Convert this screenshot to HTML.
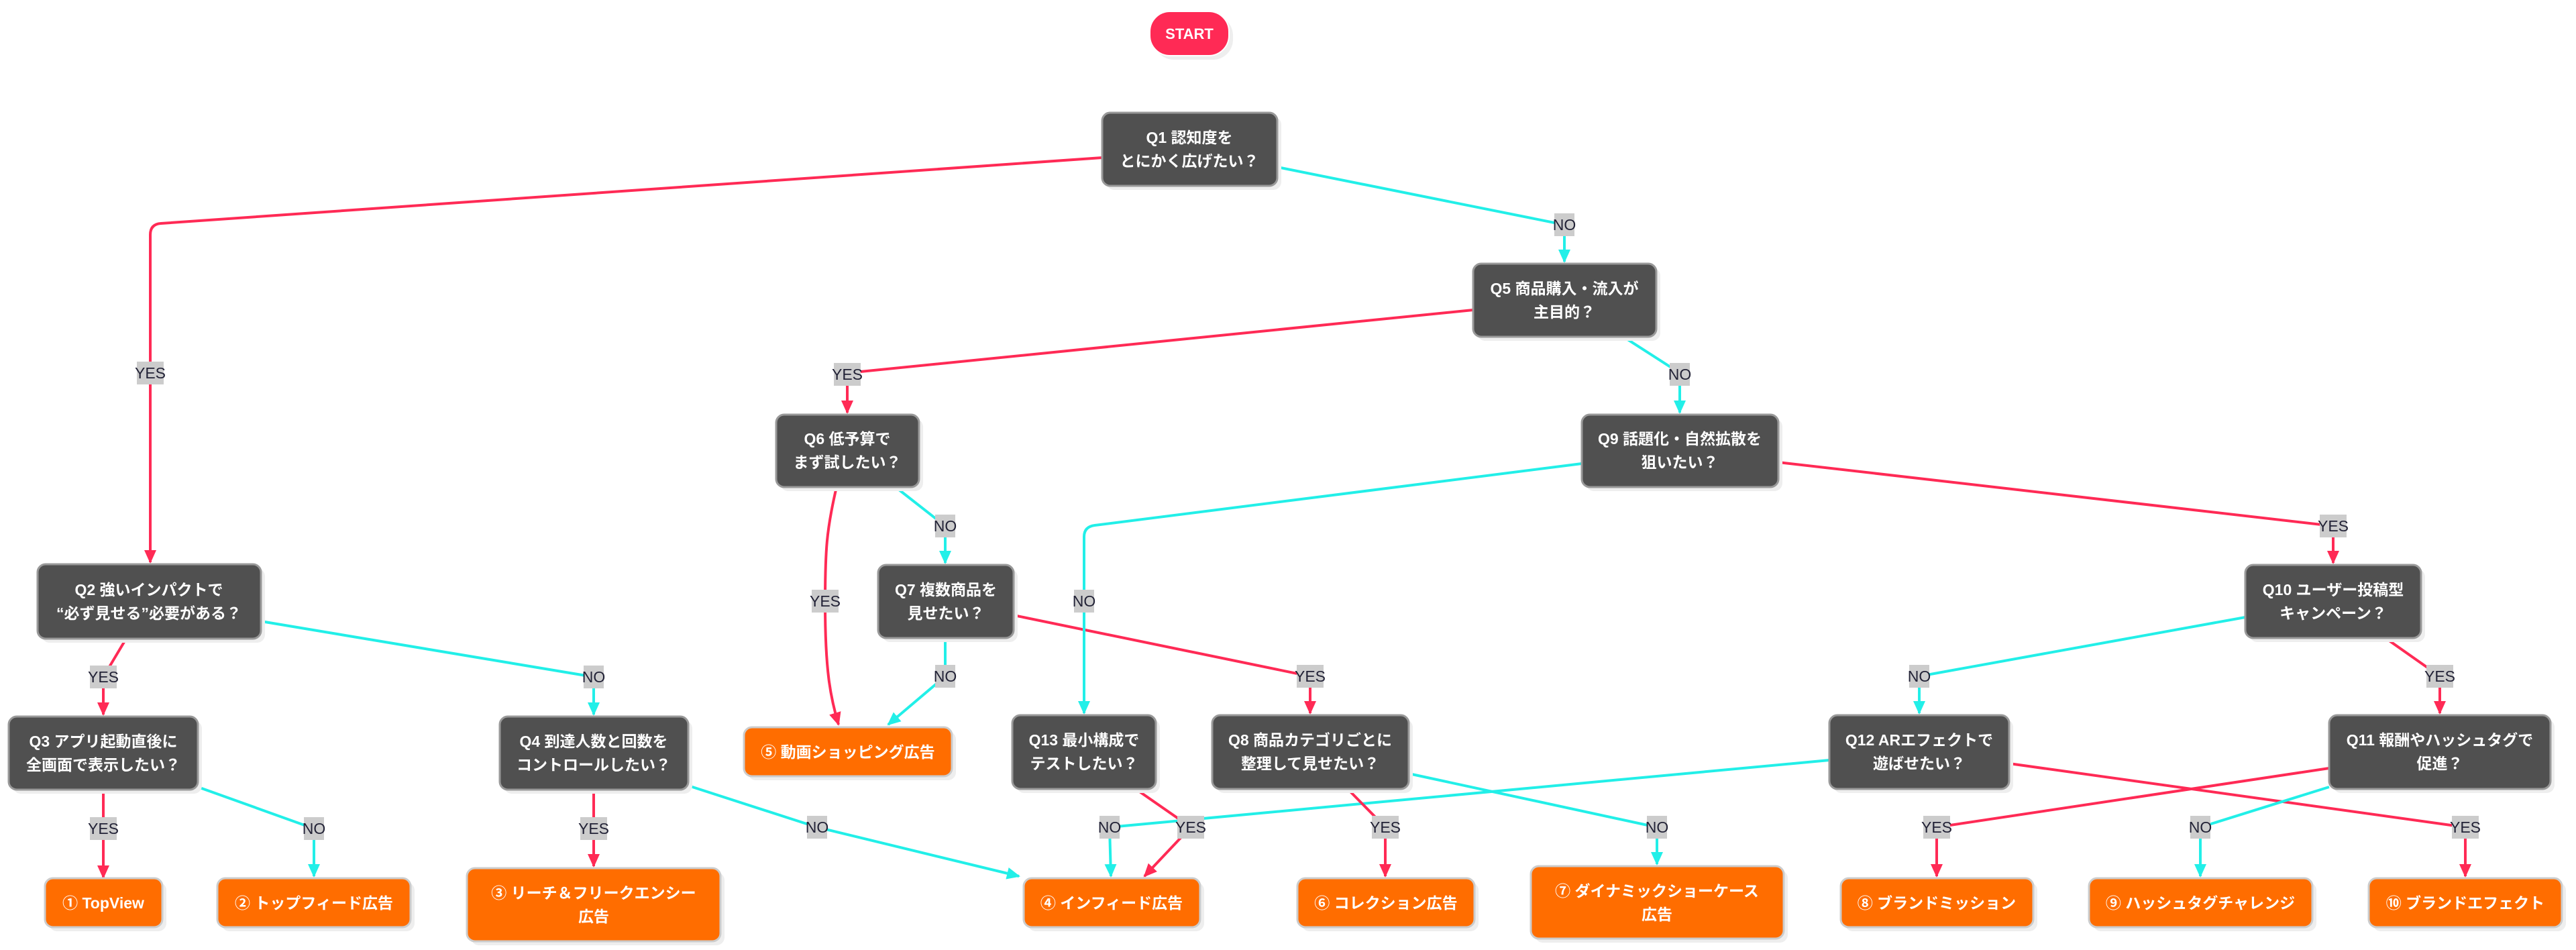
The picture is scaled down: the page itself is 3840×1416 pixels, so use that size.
<!DOCTYPE html>
<html><head><meta charset="utf-8"><style>
html,body{margin:0;padding:0;background:#fff;}
svg{display:block;}
.t{font-family:"Liberation Sans","Noto Sans CJK JP",sans-serif;font-weight:bold;fill:#fff;font-size:23px;text-anchor:middle;}
.l{font-family:"Liberation Sans","Noto Sans CJK JP",sans-serif;fill:#222236;font-size:23px;text-anchor:middle;}
.r{stroke:#ff2a55;stroke-width:4;fill:none;}
.c{stroke:#22efe8;stroke-width:4;fill:none;}
</style></head><body>
<svg width="3840" height="1416" viewBox="0 0 3840 1416" xmlns="http://www.w3.org/2000/svg">
<defs>
<marker id="ar" markerUnits="userSpaceOnUse" markerWidth="20" markerHeight="24" refX="18" refY="9" orient="auto"><path d="M0,0 L20,9 L0,18 z" fill="#ff2a55"/></marker>
<marker id="ac" markerUnits="userSpaceOnUse" markerWidth="20" markerHeight="24" refX="18" refY="9" orient="auto"><path d="M0,0 L20,9 L0,18 z" fill="#22efe8"/></marker>
</defs>

<!-- edges -->
<path class="r" d="M1643,235 L240,333 Q224,334 224,350 L224,838" marker-end="url(#ar)"/>
<path class="c" d="M1904,249 L2332,335 L2332,390" marker-end="url(#ac)"/>
<path class="r" d="M2196,462 L1263,556 L1263,615" marker-end="url(#ar)"/>
<path class="c" d="M2420,502 L2504,556 L2504,615" marker-end="url(#ac)"/>
<path class="r" d="M1247,726 C1232,790 1230,820 1230,900 C1230,1000 1238,1040 1250,1080" marker-end="url(#ar)"/>
<path class="c" d="M1335,726 L1409,784 L1409,839" marker-end="url(#ac)"/>
<path class="c" d="M1409,951 L1409,1008 L1324,1080" marker-end="url(#ac)"/>
<path class="r" d="M1511,917 L1953,1008 L1953,1063" marker-end="url(#ar)"/>
<path class="c" d="M2358,691 L1632,783 Q1616,785 1616,800 L1616,1063" marker-end="url(#ac)"/>
<path class="r" d="M2651,689 L3478,784 L3478,839" marker-end="url(#ar)"/>
<path class="r" d="M188,952 L154,1009 L154,1065" marker-end="url(#ar)"/>
<path class="c" d="M389,926 L885,1009 L885,1065" marker-end="url(#ac)"/>
<path class="r" d="M154,1177 L154,1308" marker-end="url(#ar)"/>
<path class="c" d="M295,1173 L468,1235 L468,1306" marker-end="url(#ac)"/>
<path class="r" d="M885,1177 L885,1291" marker-end="url(#ar)"/>
<path class="c" d="M1026,1171 L1218,1233 L1519,1306" marker-end="url(#ac)"/>
<path class="c" d="M2727,1133 L1654,1233 L1656,1306" marker-end="url(#ac)"/>
<path class="r" d="M1693,1176 L1775,1233 L1706,1306" marker-end="url(#ar)"/>
<path class="r" d="M2009,1176 L2065,1233 L2065,1306" marker-end="url(#ar)"/>
<path class="c" d="M2100,1153 L2470,1233 L2470,1288" marker-end="url(#ac)"/>
<path class="c" d="M3347,920 L2861,1008 L2861,1063" marker-end="url(#ac)"/>
<path class="r" d="M3556,951 L3637,1008 L3637,1063" marker-end="url(#ar)"/>
<path class="r" d="M2995,1138 L3675,1233 L3675,1306" marker-end="url(#ar)"/>
<path class="r" d="M3472,1145 L2887,1233 L2887,1306" marker-end="url(#ar)"/>
<path class="c" d="M3472,1173 L3280,1233 L3280,1306" marker-end="url(#ac)"/>

<!-- edge labels -->
<g>
<rect x="204" y="539" width="40" height="34" fill="#ccc"/><text class="l" x="224" y="564">YES</text>
<rect x="2317" y="318" width="30" height="34" fill="#ccc"/><text class="l" x="2332" y="343">NO</text>
<rect x="1243" y="541" width="40" height="34" fill="#ccc"/><text class="l" x="1263" y="566">YES</text>
<rect x="2489" y="541" width="30" height="34" fill="#ccc"/><text class="l" x="2504" y="566">NO</text>
<rect x="1210" y="879" width="40" height="34" fill="#ccc"/><text class="l" x="1230" y="904">YES</text>
<rect x="1394" y="767" width="30" height="34" fill="#ccc"/><text class="l" x="1409" y="792">NO</text>
<rect x="1394" y="991" width="30" height="34" fill="#ccc"/><text class="l" x="1409" y="1016">NO</text>
<rect x="1933" y="991" width="40" height="34" fill="#ccc"/><text class="l" x="1953" y="1016">YES</text>
<rect x="1601" y="879" width="30" height="34" fill="#ccc"/><text class="l" x="1616" y="904">NO</text>
<rect x="3458" y="767" width="40" height="34" fill="#ccc"/><text class="l" x="3478" y="792">YES</text>
<rect x="134" y="992" width="40" height="34" fill="#ccc"/><text class="l" x="154" y="1017">YES</text>
<rect x="870" y="992" width="30" height="34" fill="#ccc"/><text class="l" x="885" y="1017">NO</text>
<rect x="134" y="1218" width="40" height="34" fill="#ccc"/><text class="l" x="154" y="1243">YES</text>
<rect x="453" y="1218" width="30" height="34" fill="#ccc"/><text class="l" x="468" y="1243">NO</text>
<rect x="865" y="1218" width="40" height="34" fill="#ccc"/><text class="l" x="885" y="1243">YES</text>
<rect x="1203" y="1216" width="30" height="34" fill="#ccc"/><text class="l" x="1218" y="1241">NO</text>
<rect x="1639" y="1216" width="30" height="34" fill="#ccc"/><text class="l" x="1654" y="1241">NO</text>
<rect x="1755" y="1216" width="40" height="34" fill="#ccc"/><text class="l" x="1775" y="1241">YES</text>
<rect x="2045" y="1216" width="40" height="34" fill="#ccc"/><text class="l" x="2065" y="1241">YES</text>
<rect x="2455" y="1216" width="30" height="34" fill="#ccc"/><text class="l" x="2470" y="1241">NO</text>
<rect x="2846" y="991" width="30" height="34" fill="#ccc"/><text class="l" x="2861" y="1016">NO</text>
<rect x="3617" y="991" width="40" height="34" fill="#ccc"/><text class="l" x="3637" y="1016">YES</text>
<rect x="3655" y="1216" width="40" height="34" fill="#ccc"/><text class="l" x="3675" y="1241">YES</text>
<rect x="2867" y="1216" width="40" height="34" fill="#ccc"/><text class="l" x="2887" y="1241">YES</text>
<rect x="3265" y="1216" width="30" height="34" fill="#ccc"/><text class="l" x="3280" y="1241">NO</text>
</g>

<!-- START -->
<rect x="1720" y="23" width="118" height="66" rx="30" fill="#eee"/>
<rect x="1714" y="17" width="118" height="66" rx="30" fill="#ff2a55" stroke="#fff" stroke-width="2"/>
<text class="t" x="1773" y="58" style="font-size:22px">START</text>

<!-- question nodes -->
<g id="q">
<g><rect x="1649" y="174" width="261" height="109" rx="12" fill="#eee"/><rect x="1643" y="168" width="261" height="109" rx="12" fill="#505050" stroke="#999" stroke-width="3"/><text class="t" x="1773" y="213">Q1 認知度を</text><text class="t" x="1773" y="248">とにかく広げたい？</text></g>
<g><rect x="2202" y="399" width="273" height="109" rx="12" fill="#eee"/><rect x="2196" y="393" width="273" height="109" rx="12" fill="#505050" stroke="#999" stroke-width="3"/><text class="t" x="2332" y="438">Q5 商品購入・流入が</text><text class="t" x="2332" y="473">主目的？</text></g>
<g><rect x="1163" y="624" width="213" height="108" rx="12" fill="#eee"/><rect x="1157" y="618" width="213" height="108" rx="12" fill="#505050" stroke="#999" stroke-width="3"/><text class="t" x="1263" y="662">Q6 低予算で</text><text class="t" x="1263" y="697">まず試したい？</text></g>
<g><rect x="2364" y="624" width="293" height="108" rx="12" fill="#eee"/><rect x="2358" y="618" width="293" height="108" rx="12" fill="#505050" stroke="#999" stroke-width="3"/><text class="t" x="2504" y="662">Q9 話題化・自然拡散を</text><text class="t" x="2504" y="697">狙いたい？</text></g>
<g><rect x="62" y="847" width="333" height="111" rx="12" fill="#eee"/><rect x="56" y="841" width="333" height="111" rx="12" fill="#505050" stroke="#999" stroke-width="3"/><text class="t" x="222" y="887">Q2 強いインパクトで</text><text class="t" x="222" y="922">“必ず見せる”必要がある？</text></g>
<g><rect x="1315" y="848" width="202" height="109" rx="12" fill="#eee"/><rect x="1309" y="842" width="202" height="109" rx="12" fill="#505050" stroke="#999" stroke-width="3"/><text class="t" x="1410" y="887">Q7 複数商品を</text><text class="t" x="1410" y="922">見せたい？</text></g>
<g><rect x="3353" y="848" width="262" height="109" rx="12" fill="#eee"/><rect x="3347" y="842" width="262" height="109" rx="12" fill="#505050" stroke="#999" stroke-width="3"/><text class="t" x="3478" y="887">Q10 ユーザー投稿型</text><text class="t" x="3478" y="922">キャンペーン？</text></g>
<g><rect x="19" y="1074" width="282" height="109" rx="12" fill="#eee"/><rect x="13" y="1068" width="282" height="109" rx="12" fill="#505050" stroke="#999" stroke-width="3"/><text class="t" x="154" y="1113">Q3 アプリ起動直後に</text><text class="t" x="154" y="1148">全画面で表示したい？</text></g>
<g><rect x="751" y="1074" width="281" height="109" rx="12" fill="#eee"/><rect x="745" y="1068" width="281" height="109" rx="12" fill="#505050" stroke="#999" stroke-width="3"/><text class="t" x="885" y="1113">Q4 到達人数と回数を</text><text class="t" x="885" y="1148">コントロールしたい？</text></g>
<g><rect x="1515" y="1072" width="214" height="110" rx="12" fill="#eee"/><rect x="1509" y="1066" width="214" height="110" rx="12" fill="#505050" stroke="#999" stroke-width="3"/><text class="t" x="1616" y="1111">Q13 最小構成で</text><text class="t" x="1616" y="1146">テストしたい？</text></g>
<g><rect x="1813" y="1072" width="293" height="110" rx="12" fill="#eee"/><rect x="1807" y="1066" width="293" height="110" rx="12" fill="#505050" stroke="#999" stroke-width="3"/><text class="t" x="1953" y="1111">Q8 商品カテゴリごとに</text><text class="t" x="1953" y="1146">整理して見せたい？</text></g>
<g><rect x="2733" y="1072" width="268" height="110" rx="12" fill="#eee"/><rect x="2727" y="1066" width="268" height="110" rx="12" fill="#505050" stroke="#999" stroke-width="3"/><text class="t" x="2861" y="1111">Q12 ARエフェクトで</text><text class="t" x="2861" y="1146">遊ばせたい？</text></g>
<g><rect x="3478" y="1072" width="330" height="110" rx="12" fill="#eee"/><rect x="3472" y="1066" width="330" height="110" rx="12" fill="#505050" stroke="#999" stroke-width="3"/><text class="t" x="3637" y="1111">Q11 報酬やハッシュタグで</text><text class="t" x="3637" y="1146">促進？</text></g>
</g>

<!-- result nodes -->
<g>
<g><rect x="1115" y="1090" width="310" height="73" rx="12" fill="#eee"/><rect x="1109" y="1084" width="310" height="73" rx="12" fill="#ff6d00" stroke="#ccc" stroke-width="3"/><text class="t" x="1264" y="1129">⑤ 動画ショッピング広告</text></g>
<g><rect x="73" y="1315" width="175" height="73" rx="12" fill="#eee"/><rect x="67" y="1309" width="175" height="73" rx="12" fill="#ff6d00" stroke="#ccc" stroke-width="3"/><text class="t" x="154" y="1354">① TopView</text></g>
<g><rect x="330" y="1315" width="288" height="73" rx="12" fill="#eee"/><rect x="324" y="1309" width="288" height="73" rx="12" fill="#ff6d00" stroke="#ccc" stroke-width="3"/><text class="t" x="468" y="1354">② トップフィード広告</text></g>
<g><rect x="702" y="1300" width="378" height="109" rx="12" fill="#eee"/><rect x="696" y="1294" width="378" height="109" rx="12" fill="#ff6d00" stroke="#ccc" stroke-width="3"/><text class="t" x="885" y="1339">③ リーチ＆フリークエンシー</text><text class="t" x="885" y="1374">広告</text></g>
<g><rect x="1532" y="1315" width="263" height="73" rx="12" fill="#eee"/><rect x="1526" y="1309" width="263" height="73" rx="12" fill="#ff6d00" stroke="#ccc" stroke-width="3"/><text class="t" x="1657" y="1354">④ インフィード広告</text></g>
<g><rect x="1940" y="1315" width="264" height="73" rx="12" fill="#eee"/><rect x="1934" y="1309" width="264" height="73" rx="12" fill="#ff6d00" stroke="#ccc" stroke-width="3"/><text class="t" x="2066" y="1354">⑥ コレクション広告</text></g>
<g><rect x="2288" y="1297" width="377" height="108" rx="12" fill="#eee"/><rect x="2282" y="1291" width="377" height="108" rx="12" fill="#ff6d00" stroke="#ccc" stroke-width="3"/><text class="t" x="2470" y="1336">⑦ ダイナミックショーケース</text><text class="t" x="2470" y="1371">広告</text></g>
<g><rect x="2750" y="1315" width="287" height="73" rx="12" fill="#eee"/><rect x="2744" y="1309" width="287" height="73" rx="12" fill="#ff6d00" stroke="#ccc" stroke-width="3"/><text class="t" x="2887" y="1354">⑧ ブランドミッション</text></g>
<g><rect x="3120" y="1315" width="333" height="73" rx="12" fill="#eee"/><rect x="3114" y="1309" width="333" height="73" rx="12" fill="#ff6d00" stroke="#ccc" stroke-width="3"/><text class="t" x="3280" y="1354">⑨ ハッシュタグチャレンジ</text></g>
<g><rect x="3537" y="1315" width="288" height="73" rx="12" fill="#eee"/><rect x="3531" y="1309" width="288" height="73" rx="12" fill="#ff6d00" stroke="#ccc" stroke-width="3"/><text class="t" x="3675" y="1354">⑩ ブランドエフェクト</text></g>
</g>
</svg>
</body></html>
